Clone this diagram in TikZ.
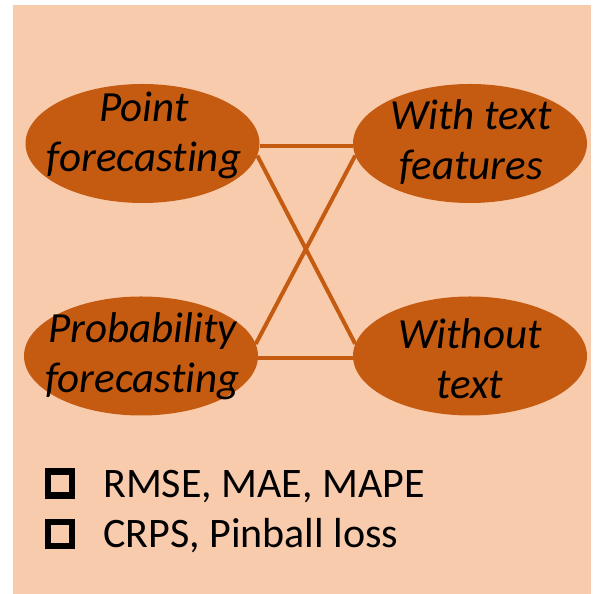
\documentclass[tikz,border=0pt]{standalone}
\usepackage{fontspec}
\setmainfont[Ligatures={NoCommon}]{Carlito}
\usetikzlibrary{shapes.geometric}
\definecolor{peach}{HTML}{F8CBAD}
\definecolor{rust}{HTML}{C55A11}
\tikzset{
  blob/.style={ellipse, fill=rust, draw=none, minimum width=234pt, minimum height=119pt, inner sep=0pt},
  lbl/.style={align=center, anchor=base, font=\fontsize{43}{50}\selectfont\itshape, inner sep=0pt},
  link/.style={draw=rust, line width=4pt},
  listtxt/.style={anchor=base west, font=\fontsize{42}{50}\selectfont, inner sep=0pt},
  chk/.style={draw=black, line width=6.5pt, minimum size=24pt, inner sep=0pt}
}
\begin{document}
\begin{tikzpicture}[x=1pt,y=1pt]
\useasboundingbox (0,0) rectangle (598,594);
\fill[peach] (13,0) rectangle (591,589);
\node[blob] (P) at (142.5,450.5) {};
\node[blob] (W) at (470,450.5) {};
\node[blob] (R) at (141,238) {};
\node[blob] (N) at (470,238) {};
\draw[link] (P.-1) -- (W.181);
\draw[link] (R.-1) -- (N.181);
\draw[link] (P.-6) -- (N.174);
\draw[link] (R.6) -- (W.186);
\node[lbl] (Pt) at (144,422) {Point\\forecasting};
\node[lbl] (Wt) at (471,414) {With text\\features};
\node[lbl] (Rt) at (142.5,201) {Probability\\forecasting};
\node[lbl] (Nt) at (470,195) {Without\\text};
\node[chk] (c1) at (60,110.5) {};
\node[chk] (c2) at (60,60) {};
\node[listtxt] (l1) at (103,96) {RMSE, MAE, MAPE};
\node[listtxt] (l2) at (103,46) {CRPS, Pinball loss};
\end{tikzpicture}
\end{document}
